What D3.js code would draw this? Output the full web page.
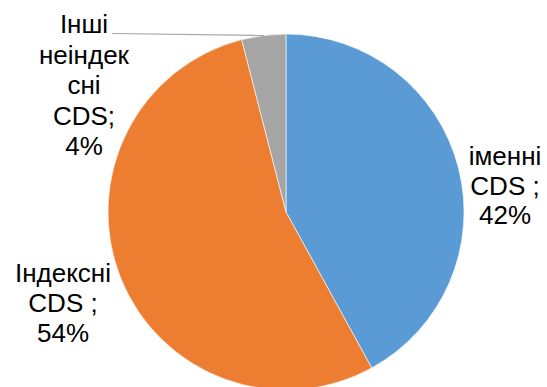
<!DOCTYPE html>
<html>
<head>
<meta charset="utf-8">
<script src="https://cdn.jsdelivr.net/npm/d3@7"></script>
<style>
  html, body { margin: 0; padding: 0; background: #fff; }
  svg { display: block; }
  text { font-family: "Liberation Sans", Arial, sans-serif; fill: #000; }
</style>
</head>
<body>
<svg id="chart" width="547" height="387"></svg>
<script>
// Structure of the CDS market by type
const categories = ["іменні CDS", "Індексні CDS", "Інші неіндексні CDS"];
const values = [42, 54, 4];
const colors = ["#5B9BD5", "#ED7D31", "#A5A5A5"];
// Label lines as they wrap beside each slice
const labelLines = [
  ["іменні", "CDS ;", "42%"],
  ["Індексні", "CDS ;", "54%"],
  ["Інші", "неіндек", "сні", "CDS;", "4%"]
];

const svg = d3.select("#chart");
const cx = 286, cy = 212, r = 178;
const g = svg.append("g").attr("transform", `translate(${cx},${cy})`);

const pie = d3.pie().sort(null).value(d => d);
const arcs = pie(values);
const arc = d3.arc().innerRadius(0).outerRadius(r);

g.selectAll("path.slice")
  .data(arcs)
  .join("path")
  .attr("class", "slice")
  .attr("d", arc)
  .attr("fill", (d, i) => colors[i])
  .attr("stroke", "#fff")
  .attr("stroke-width", 0.6);

// Label positions (centre x, first baseline) relative to the page
const labelPos = [
  { x: 505, y: 165, dy: 29.5 },
  { x: 63, y: 282, dy: 30 },
  { x: 84, y: 33, dy: 30.5 }
];
const fontSize = 26;

labelLines.forEach((lines, i) => {
  const p = labelPos[i];
  const t = svg.append("text")
    .attr("text-anchor", "middle")
    .attr("font-size", fontSize);
  lines.forEach((ln, j) => {
    t.append("tspan").attr("x", p.x).attr("y", p.y + j * p.dy).text(ln);
  });
});

// Leader line from the small slice to its label
const small = arcs[2];
const mid = (small.startAngle + small.endAngle) / 2;
const ax = cx + r * Math.sin(mid), ay = cy - r * Math.cos(mid);
svg.append("line")
  .attr("x1", 112).attr("y1", 33.5)
  .attr("x2", ax).attr("y2", ay)
  .attr("stroke", "#A5A5A5")
  .attr("stroke-width", 1.2);
</script>
</body>
</html>
